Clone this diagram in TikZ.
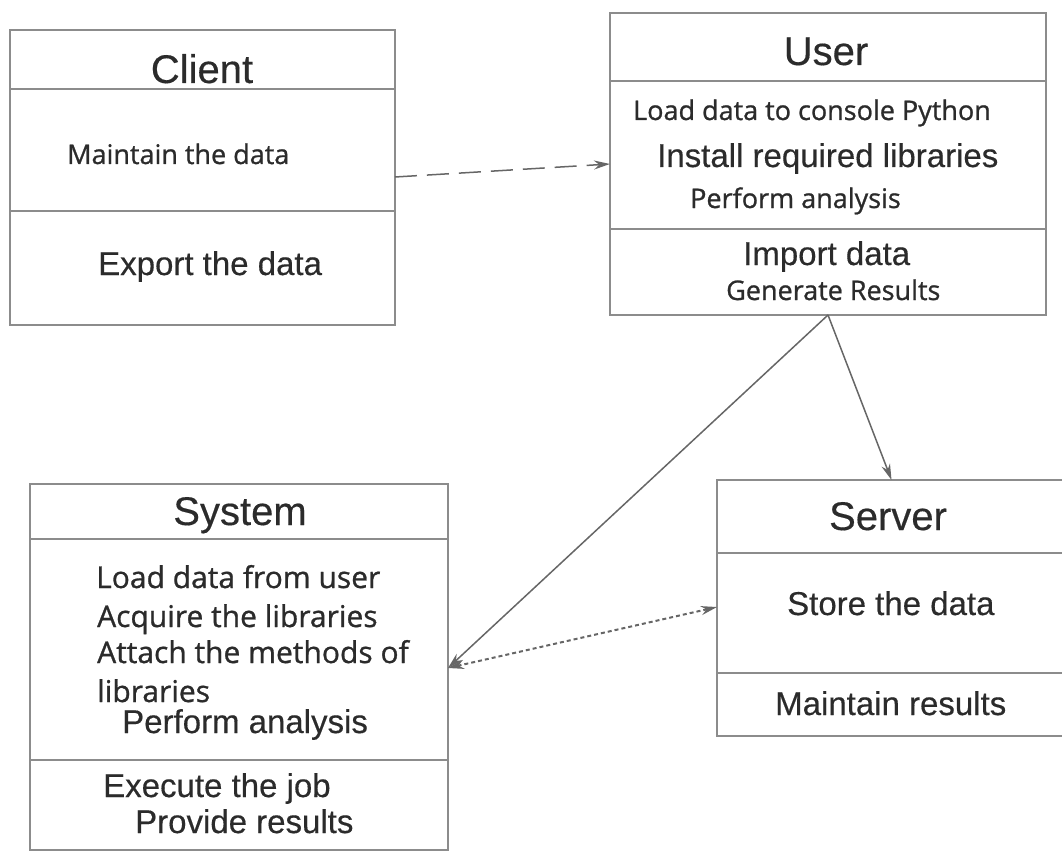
\documentclass[tikz,border=0pt]{standalone}
\usepackage{fontspec}
\setmainfont{Liberation Sans}[FakeBold=0.4]
\newfontfamily\osfont{Open Sans}[FakeBold=0.9]
\usetikzlibrary{arrows.meta}
\definecolor{boxline}{HTML}{8C8C8C}
\definecolor{ink}{HTML}{2B2B2B}
\definecolor{wirecol}{HTML}{666666}
\tikzset{
  part/.style={draw=boxline,line width=1.8pt,anchor=north west,inner sep=0pt,outer sep=0pt},
  title/.style={anchor=base,inner sep=0pt,text=ink,font=\fontsize{40}{40}\selectfont},
  big/.style={anchor=base west,inner sep=0pt,text=ink,font=\fontsize{33}{33}\selectfont},
  small/.style={anchor=base west,inner sep=0pt,text=ink,font=\osfont\fontsize{27}{27}\selectfont},
  mid/.style={anchor=base west,inner sep=0pt,text=ink,font=\osfont\fontsize{30}{30}\selectfont},
  wire/.style={draw=wirecol,line width=1.5pt,-{Stealth[length=16pt,width=9pt]}},
}
\begin{document}
\begin{tikzpicture}[x=1pt,y=-1pt]
  \useasboundingbox (0,0) rectangle (1062,853);

  % Client
  \node (chead) [part,minimum width=385pt,minimum height=59pt]  at (10,30)  {};
  \node (cbody) [part,minimum width=385pt,minimum height=122pt] at (10,89)  {};
  \node (cfoot) [part,minimum width=385pt,minimum height=114pt] at (10,211) {};
  \node (ctitle)  [title] at (202,83)  {Client};
  \node (cmaint)  [small] at (67,164)  {Maintain the data};
  \node (cexport) [big]   at (98,275)  {Export the data};

  % User
  \node (uhead) [part,minimum width=436pt,minimum height=68pt]  at (610,13)  {};
  \node (ubody) [part,minimum width=436pt,minimum height=148pt] at (610,81)  {};
  \node (ufoot) [part,minimum width=436pt,minimum height=86pt]  at (610,229) {};
  \node (utitle)    [title] at (826,65)  {User};
  \node (uload)     [small] at (633,120) {Load data to console Python};
  \node (uinstall)  [big]   at (657,167) {Install required libraries};
  \node (uperform)  [small] at (690,208) {Perform analysis};
  \node (uimport)   [big]   at (743,265) {Import data};
  \node (ugenerate) [small] at (726,300) {Generate Results};

  % System
  \node (shead) [part,minimum width=418pt,minimum height=55pt]  at (30,484) {};
  \node (sbody) [part,minimum width=418pt,minimum height=221pt] at (30,539) {};
  \node (sfoot) [part,minimum width=418pt,minimum height=90pt]  at (30,760) {};
  \node (stitle)   [title] at (240,525) {System};
  \node (sload)    [mid]   at (96,588)  {Load data from user};
  \node (sacquire) [mid]   at (97,627)  {Acquire the libraries};
  \node (sattach)  [mid]   at (97,663)  {Attach the methods of};
  \node (slibs)    [mid]   at (97,702)  {libraries};
  \node (sperform) [big]   at (122,733) {Perform analysis};
  \node (sexecute) [big]   at (103,797) {Execute the job};
  \node (sprovide) [big]   at (135,833) {Provide results};

  % Server
  \node (vhead) [part,minimum width=349pt,minimum height=73pt]  at (717,480) {};
  \node (vbody) [part,minimum width=349pt,minimum height=120pt] at (717,553) {};
  \node (vfoot) [part,minimum width=349pt,minimum height=63pt]  at (717,673) {};
  \node (vtitle) [title] at (888,530) {Server};
  \node (vstore) [big]   at (787,615) {Store the data};
  \node (vmaint) [big]   at (775,715) {Maintain results};

  \draw [wire,dash pattern=on 22pt off 10pt] ([yshift=-27pt]cbody.east) -- ([yshift=-9pt]ubody.west);
  \draw [wire] (ufoot.south) -- ([yshift=-18.5pt]sbody.east);
  \draw [wire] (ufoot.south) -- (vhead.north);
  \draw [wire,{Stealth[length=16pt,width=9pt]}-{Stealth[length=16pt,width=9pt]},dash pattern=on 4pt off 3pt,line width=2pt]
    ([yshift=-18.5pt]sbody.east) -- ([yshift=6pt]vbody.west);
\end{tikzpicture}
\end{document}
